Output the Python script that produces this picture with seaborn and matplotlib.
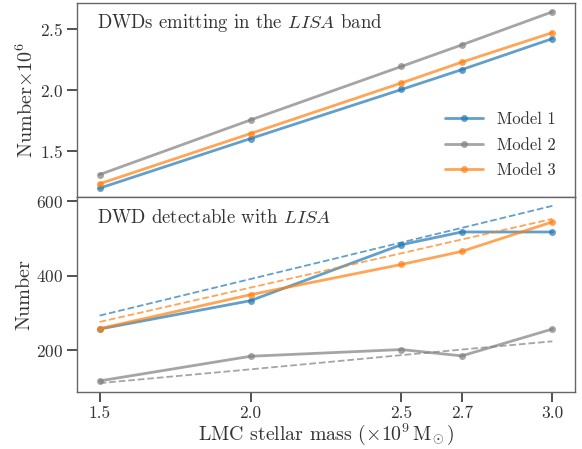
import numpy as np
import pandas as pd
import matplotlib
matplotlib.use("Agg")
import matplotlib.pyplot as plt
import seaborn as sns

# ---- data ----
mass = [1.5, 2.0, 2.5, 2.7, 3.0]
models = ["Model 1", "Model 2", "Model 3"]
emit_m1 = [1.200, 1.605, 2.006, 2.168, 2.421]
emit_m2 = [1.311, 1.757, 2.194, 2.370, 2.640]
emit_m3 = [1.236, 1.646, 2.059, 2.229, 2.470]
det_m1 = [257, 333, 483, 517, 517]
det_m2 = [118, 184, 202, 185, 257]
det_m3 = [258, 349, 430, 465, 544]
fit_m1 = [293, 391, 489, 528, 587]
fit_m2 = [112, 149, 187, 202, 224]
fit_m3 = [276, 368, 460, 497, 552]
top_ticks = [1.5, 2.0, 2.5]
bot_ticks = [200, 400, 600]
x_ticks = [1.5, 2.0, 2.5, 2.7, 3.0]

def long(a, b, c, name):
    rows = []
    for m, vals in zip(models, [a, b, c]):
        for x, v in zip(mass, vals):
            rows.append({"mass": x, name: v, "model": m})
    return pd.DataFrame(rows)

df_emit = long(emit_m1, emit_m2, emit_m3, "value")
df_det = long(det_m1, det_m2, det_m3, "value")
df_fit = long(fit_m1, fit_m2, fit_m3, "value")

sns.set_theme(style="ticks")
plt.rcParams.update({
    "font.family": "serif",
    "font.serif": ["cmr10"],
    "mathtext.fontset": "cm",
    "axes.formatter.use_mathtext": True,
    "axes.unicode_minus": False,
    "text.color": "#333333",
    "axes.labelcolor": "#333333",
    "xtick.color": "#333333",
    "ytick.color": "#333333",
    "axes.edgecolor": "#666666",
})

palette = {"Model 1": "tab:blue", "Model 2": "tab:gray", "Model 3": "tab:orange"}

fig = plt.figure(figsize=(5.82, 4.49), dpi=100)
ax1 = fig.add_axes([77/582, 1 - 197/449, (575-77)/582, (197-3)/449])
ax2 = fig.add_axes([77/582, 1 - 392/449, (575-77)/582, (392-197)/449], sharex=ax1)

sns.lineplot(data=df_emit, x="mass", y="value", hue="model", palette=palette,
             marker="o", markersize=5, markeredgewidth=0, linewidth=2, alpha=0.7, ax=ax1)
sns.lineplot(data=df_det, x="mass", y="value", hue="model", palette=palette,
             marker="o", markersize=5, markeredgewidth=0, linewidth=2, alpha=0.7, ax=ax2,
             legend=False)
sns.lineplot(data=df_fit, x="mass", y="value", hue="model", palette=palette,
             linestyle="--", linewidth=1.3, alpha=0.7, ax=ax2, legend=False)

ax1.set_yticks(top_ticks)
ax2.set_yticks(bot_ticks)
ax2.set_xticks(x_ticks)
ax2.set_xticklabels([f"{v:.1f}" for v in x_ticks])
ax1.tick_params(axis="x", which="both", bottom=False, labelbottom=False)
for ax in (ax1, ax2):
    ax.tick_params(axis="both", labelsize=12.5, length=7, width=1.2, pad=3,
                   direction="out")
    for s in ax.spines.values():
        s.set_linewidth(1.0)

ax1.set_ylabel(r"Number$\times10^6$", fontsize=14.5, labelpad=2)
ax2.set_ylabel("Number", fontsize=14.5, labelpad=2)
ax1.set_xlabel("")
ax2.set_xlabel(r"LMC stellar mass ($\times10^9\,\mathrm{M}_{\!\odot}$)", fontsize=14.3,
               labelpad=0.5)

ax1.text(0.04, 0.898, r"DWDs emitting in the $LISA$ band", transform=ax1.transAxes,
         fontsize=13.5, va="center", ha="left")
ax2.text(0.04, 0.894, r"DWD detectable with $LISA$", transform=ax2.transAxes,
         fontsize=13.5, va="center", ha="left")

leg = ax1.legend(loc="lower right", frameon=False, fontsize=12, handlelength=2.3,
                 handletextpad=0.84, labelspacing=0.6, borderaxespad=0.75)

fig.savefig("out.png", dpi=100)
